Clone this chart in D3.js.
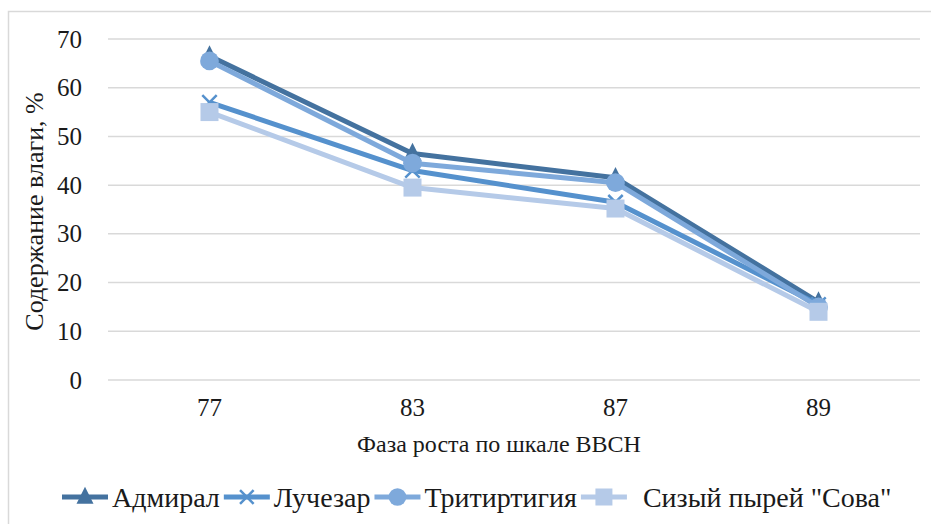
<!DOCTYPE html>
<html>
<head>
<meta charset="utf-8">
<script src="https://cdn.jsdelivr.net/npm/d3@7"></script>
<style>
  body { margin: 0; background: #fff; }
  svg text { font-family: "Liberation Serif", "Times New Roman", "Liberation Sans", sans-serif; }
</style>
</head>
<body>
<svg id="chart" width="931" height="524"></svg>
<script>
// Moisture content by BBCH growth stage
const categories = ["77", "83", "87", "89"];
const seriesNames = ["Адмирал", "Лучезар", "Тритиртигия", "Сизый пырей \"Сова\""];
const admiral   = [66.5, 46.5, 41.5, 16.0];
const luchezar  = [57.0, 43.0, 36.5, 15.5];
const tritirtig = [65.5, 44.5, 40.5, 15.0];
const sova      = [55.0, 39.5, 35.2, 14.0];
const yTicks = [0, 10, 20, 30, 40, 50, 60, 70];

const colors = ["#44729f", "#5591cd", "#7ea9db", "#b5cae8"];
const shapes = ["triangle", "cross", "circle", "square"];
const series = [admiral, luchezar, tritirtig, sova].map((values, i) => ({
  name: seriesNames[i], values, color: colors[i], shape: shapes[i]
}));

const svg = d3.select("#chart");
const margin = { left: 108, right: 11, top: 39, bottom: 144 };
const W = 931, H = 524;
const ink = "#1a1a1a";

// outer frame
svg.append("rect").attr("x", 8.5).attr("y", 11.5).attr("width", 940).attr("height", 540)
  .attr("fill", "none").attr("stroke", "#d9d9d9").attr("stroke-width", 1.5);

const x = d3.scaleBand().domain(categories).range([margin.left, W - margin.right]);
const y = d3.scaleLinear().domain([0, 70]).range([H - margin.bottom, margin.top]);

// gridlines
svg.append("g").selectAll("line").data(yTicks).join("line")
  .attr("x1", margin.left).attr("x2", W - margin.right)
  .attr("y1", d => y(d)).attr("y2", d => y(d))
  .attr("stroke", "#d9d9d9").attr("stroke-width", 1.5);

// y axis labels
const yAxis = svg.append("g").attr("transform", `translate(${margin.left},0)`)
  .call(d3.axisLeft(y).tickValues(yTicks).tickSize(0).tickPadding(26));
yAxis.attr("font-family", null);
yAxis.select(".domain").remove();
yAxis.selectAll("text").attr("font-size", 25).attr("fill", ink);

// x axis labels
const xAxis = svg.append("g").attr("transform", `translate(0,${H - margin.bottom})`)
  .call(d3.axisBottom(x).tickSize(0).tickPadding(18));
xAxis.attr("font-family", null);
xAxis.select(".domain").remove();
xAxis.selectAll("text").attr("font-size", 25).attr("fill", ink);

// axis titles
svg.append("text").attr("x", 499).attr("y", 452)
  .attr("text-anchor", "middle").attr("font-size", 24).attr("fill", ink)
  .text("Фаза роста по шкале BBCH");
svg.append("text").attr("transform", `translate(43,${(y(0) + y(70)) / 2 + 2}) rotate(-90)`)
  .attr("text-anchor", "middle").attr("font-size", 26).attr("fill", ink)
  .text("Содержание влаги, %");

const cx = c => x(c) + x.bandwidth() / 2;
const line = d3.line().x((d, i) => cx(categories[i])).y(d => y(d));

function drawMarker(g, shape, color, px, py, s) {
  if (shape === "triangle") {
    g.append("path").attr("d", `M${px},${py - s * 0.6}L${px + s * 0.5},${py + s * 0.4}L${px - s * 0.5},${py + s * 0.4}Z`)
      .attr("fill", color);
  } else if (shape === "cross") {
    g.append("path").attr("d", `M${px - s * 0.4},${py - s * 0.4}L${px + s * 0.4},${py + s * 0.4}M${px + s * 0.4},${py - s * 0.4}L${px - s * 0.4},${py + s * 0.4}`)
      .attr("stroke", color).attr("stroke-width", 2.5).attr("fill", "none");
  } else if (shape === "circle") {
    g.append("circle").attr("cx", px).attr("cy", py).attr("r", s * 0.52).attr("fill", color);
  } else {
    g.append("rect").attr("x", px - s * 0.5).attr("y", py - s * 0.5).attr("width", s).attr("height", s).attr("fill", color);
  }
}

const plot = svg.append("g");
series.forEach(s => {
  const g = plot.append("g");
  g.append("path").datum(s.values).attr("d", line)
    .attr("fill", "none").attr("stroke", s.color).attr("stroke-width", 5)
    .attr("stroke-linejoin", "round");
  s.values.forEach((v, i) => drawMarker(g, s.shape, s.color, cx(categories[i]), y(v), 18));
});

// legend
const legend = svg.append("g");
let lx = 62;
const ly = 497;
series.forEach((s, i) => {
  const g = legend.append("g");
  g.append("line").attr("x1", lx).attr("x2", lx + 46).attr("y1", ly).attr("y2", ly)
    .attr("stroke", s.color).attr("stroke-width", 5);
  drawMarker(g, s.shape, s.color, lx + 23, ly, 17);
  const tx = lx + 50 + (i === 3 ? 12 : 0);
  const t = g.append("text").attr("x", tx).attr("y", ly + 10).attr("font-size", 28).attr("fill", ink).text(s.name);
  lx = tx + t.node().getComputedTextLength() + 4;
});
</script>
</body>
</html>
